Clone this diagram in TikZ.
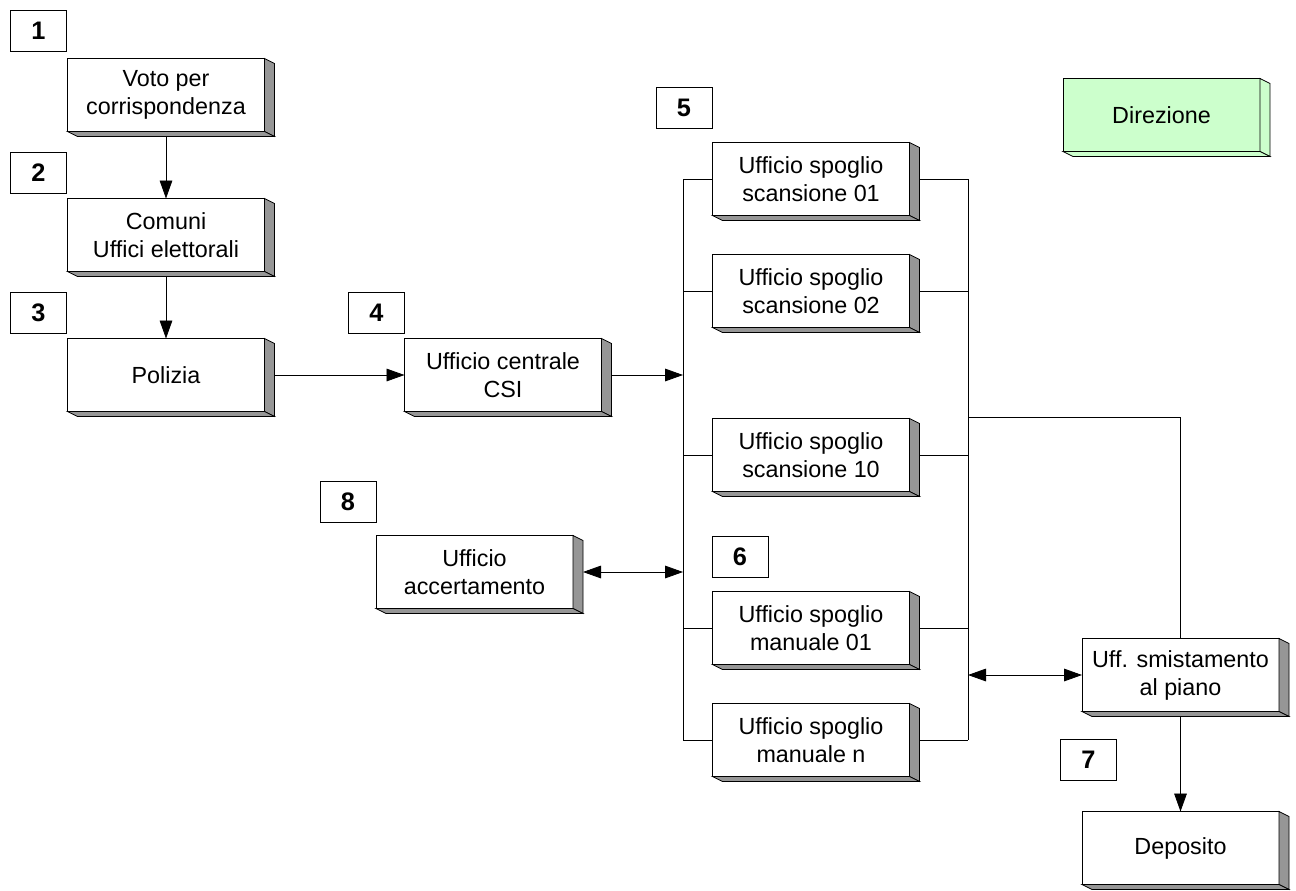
\documentclass[tikz,border=0pt]{standalone}
\usepackage{fontspec}
\setmainfont{Liberation Sans}
\usetikzlibrary{calc,positioning,arrows.meta}
\definecolor{grigio}{RGB}{150,150,150}
\definecolor{verdino}{RGB}{204,255,204}

\tikzset{
  ufficio/.style={draw, fill=white, minimum width=147.75pt, minimum height=54.75pt,
    align=center, inner sep=0pt, outer sep=0pt, font=\fontsize{17.5}{21}\selectfont},
  numero/.style={draw, fill=white, minimum width=42pt, minimum height=30.75pt,
    inner sep=0pt, outer sep=0pt, font=\fontsize{19}{22}\selectfont\bfseries},
  freccia/.style={-{Triangle[length=13.5pt,width=9.5pt]}},
  doppia/.style={{Triangle[length=13.5pt,width=9.5pt]}-{Triangle[length=13.5pt,width=9.5pt]}},
}

% rilievo 3D a destra e in basso di un riquadro
\newcommand{\rilievo}[2][grigio]{%
  \filldraw[fill=#1] (#2.north east) -- ++(10,5) -- ($(#2.south east)+(10,5)$) -- (#2.south east) -- cycle;
  \filldraw[fill=#1] (#2.south west) -- ++(10,5) -- ($(#2.south east)+(10,5)$) -- (#2.south east) -- cycle;
}

\begin{document}
\begin{tikzpicture}[x=0.75pt, y=-0.75pt, line width=0.6pt]
    \useasboundingbox (0,0) rectangle (1296,890);

    % colonna di sinistra
    \node[numero] (n1) at (38.5,31) {1};
    \node[ufficio] (voto) at (166,95) {Voto per\\corrispondenza};
    \node[numero] (n2) at (38.5,172.5) {2};
    \node[ufficio] (comuni) at (166,235) {Comuni\\Uffici elettorali};
    \node[numero] (n3) at (38.5,312.5) {3};
    \node[ufficio] (polizia) at (166,375) {Polizia};
    \node[numero] (n4) at (376.5,312.5) {4};
    \node[ufficio] (csi) at (503,375) {Ufficio centrale\\CSI};
    \node[numero] (n8) at (348,502) {8};
    \node[ufficio] (accert) at (474.5,572) {Ufficio\\accertamento};

    % uffici di spoglio
    \node[numero] (n5) at (684,108) {5};
    \node[ufficio] (scan01) at (811,179) {Ufficio spoglio\\scansione 01};
    \node[ufficio] (scan02) at (811,291) {Ufficio spoglio\\scansione 02};
    \node[ufficio] (scan10) at (811,455) {Ufficio spoglio\\scansione 10};
    \node[numero] (n6) at (740,556.5) {6};
    \node[ufficio] (man01) at (811,628) {Ufficio spoglio\\manuale 01};
    \node[ufficio] (mann) at (811,740) {Ufficio spoglio\\manuale n};

    % colonna di destra
    \node[ufficio, fill=verdino] (direz) at (1161.5,115) {Direzione};
    \node[ufficio] (smist) at (1180.5,675) {Uff. smistamento\\al piano};
    \node[numero] (n7) at (1088.5,759.5) {7};
    \node[ufficio] (deposito) at (1180.5,848) {Deposito};

    % linee di raccolta
    \coordinate (bl) at (683,179);
    \coordinate (br) at (968,179);
    \coordinate (brm) at (968,417);
    \draw (bl) -- (bl |- mann.west);
    \draw (br) -- (br |- mann.east);
    \foreach \b in {scan01,scan02,scan10,man01,mann} {
        \draw (\b.west -| bl) -- (\b.west);
        \draw (\b.east) -- (\b.east -| br);
    }

    % frecce
    \draw[freccia] (voto) -- (comuni);
    \draw[freccia] (comuni) -- (polizia);
    \draw[freccia] (polizia) -- (csi);
    \draw[freccia] (csi.east) -- (csi.east -| bl);
    \draw[doppia] ($(accert.east)+(10,0)$) -- (accert.east -| bl);
    \draw[doppia] (smist.west -| br) -- (smist.west);
    \draw (brm) -| (smist.north);
    \draw[freccia] (smist) -- (deposito);

    % rilievi
    \foreach \b in {voto,comuni,polizia,csi,accert,scan01,scan02,scan10,man01,mann,smist,deposito} {
        \rilievo{\b}
    }
    \rilievo[verdino]{direz}
\end{tikzpicture}
\end{document}
